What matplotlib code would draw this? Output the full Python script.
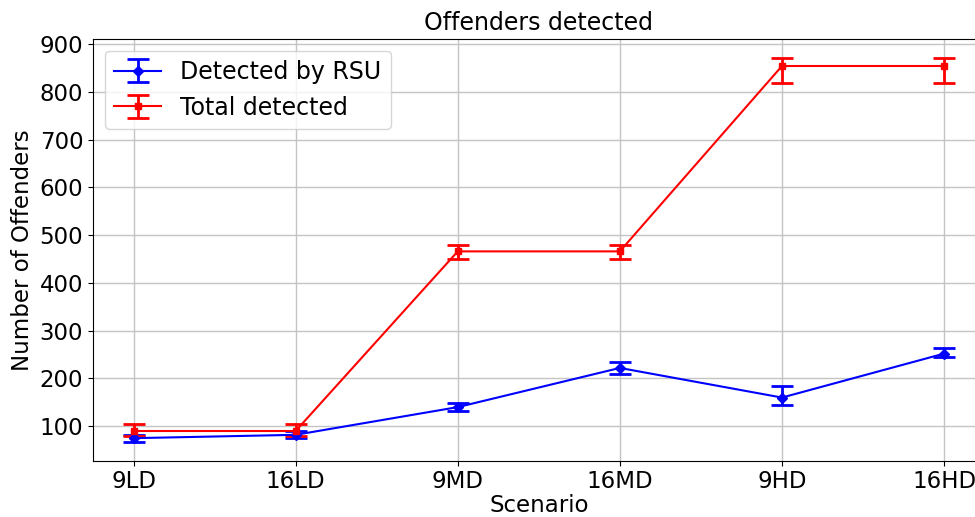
import matplotlib
matplotlib.use("Agg")
from matplotlib import pyplot as plt
import numpy as np

scenarios = ["9LD", "16LD", "9MD", "16MD", "9HD", "16HD"]

rsu = [75, 82, 140, 222, 160, 252]
rsu_err_low = [7, 7, 9, 12, 16, 8]
rsu_err_high = [7, 8, 9, 12, 24, 12]

total = [90, 90, 466, 466, 854, 854]
total_err_low = [10, 10, 15, 15, 35, 35]
total_err_high = [14, 14, 14, 14, 17, 17]

y_ticks = [100, 200, 300, 400, 500, 600, 700, 800, 900]

plt.rcParams["font.size"] = 16.5

fig = plt.figure(figsize=(9.75, 5.17), dpi=100)
ax = fig.add_axes([93 / 975, (517 - 460.7) / 517, (984.6 - 93) / 975, (460.7 - 38.7) / 517])

x = np.arange(len(scenarios))
ax.errorbar(
    x, rsu, yerr=[rsu_err_low, rsu_err_high], color="blue", marker="D",
    markersize=5, linewidth=1.5, elinewidth=2, capsize=8, capthick=2,
    label="Detected by RSU",
)
ax.errorbar(
    x, total, yerr=[total_err_low, total_err_high], color="red", marker="s",
    markersize=5, linewidth=1.5, elinewidth=2, capsize=8, capthick=2,
    label="Total detected",
)

ax.set_xticks(x)
ax.set_xticklabels(scenarios)
ax.set_yticks(y_ticks)
ax.tick_params(axis="x", pad=3)
ax.set_xlabel("Scenario", labelpad=1)
ax.set_ylabel("Number of Offenders")
ax.set_title("Offenders detected", fontsize=17)
ax.grid(True, color="#c4c4c4", linewidth=1)
ax.legend(loc="upper left", fontsize=17)

fig.savefig("out.png", dpi=100)
